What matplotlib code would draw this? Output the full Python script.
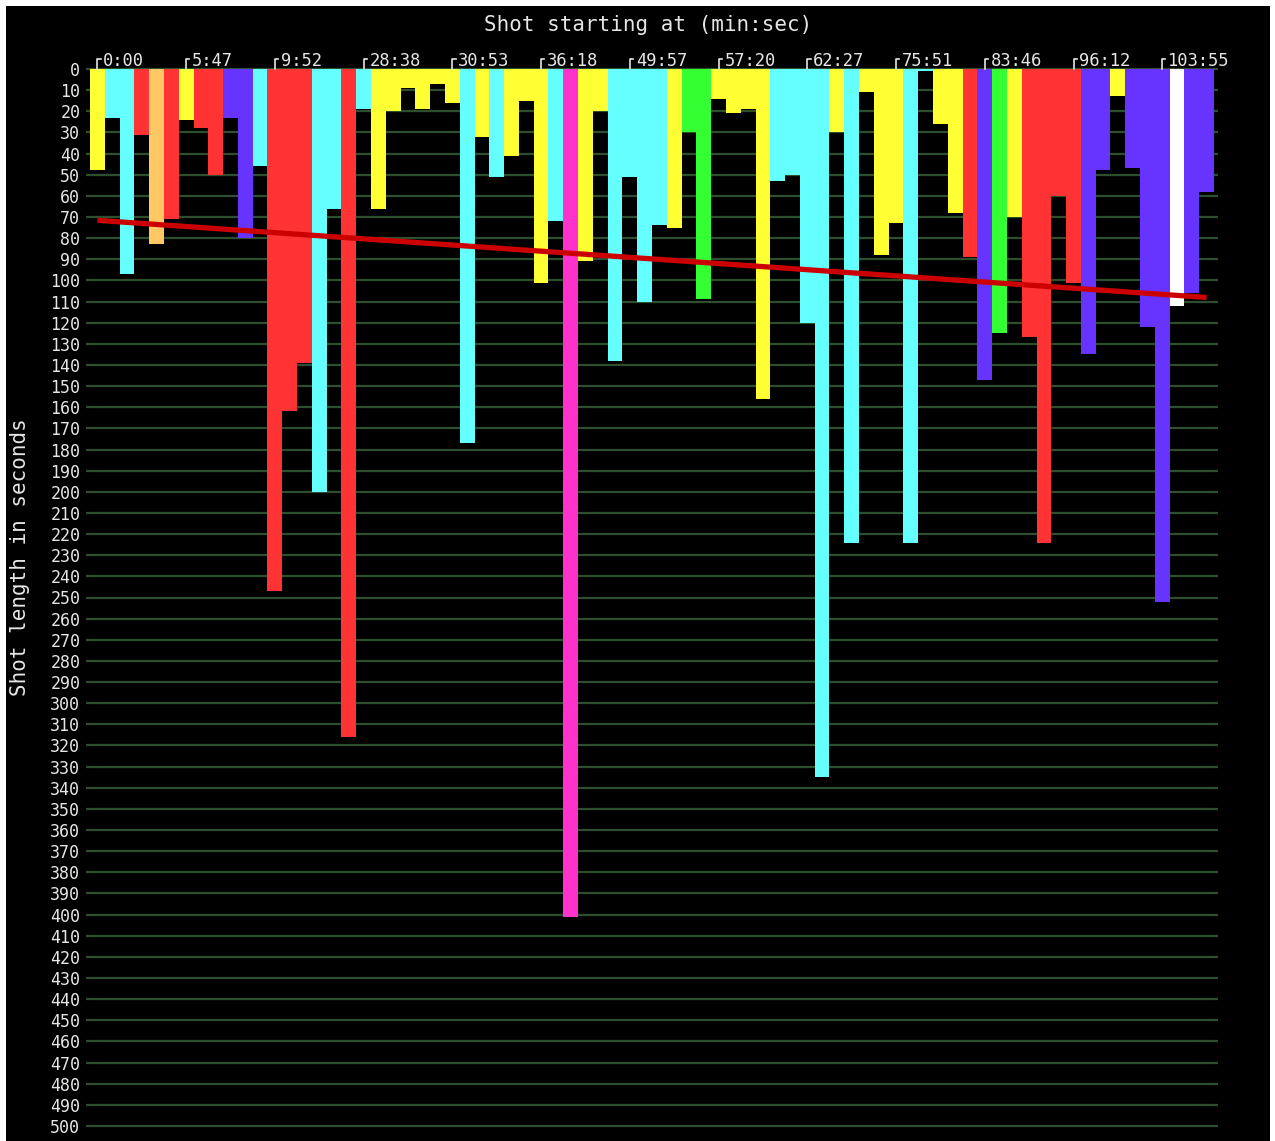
"""Shot length chart: one bar per shot, hanging down from the top axis."""

from __future__ import annotations

import matplotlib

matplotlib.use("Agg")
import matplotlib.pyplot as plt
import matplotlib.transforms as mtransforms
import numpy as np

# shot lengths in seconds, in shot order
shot_len = [
    48, 23, 97, 31, 83, 71, 24, 28, 50, 23, 80, 46, 247, 162, 139, 200, 66, 316, 19, 66,
    20, 9, 19, 7, 16, 177, 32, 51, 41, 15, 101, 72, 401, 91, 20, 138, 51, 110, 74, 75,
    30, 109, 14, 21, 19, 156, 53, 50, 120, 335, 30, 224, 11, 88, 73, 224, 1, 26, 68, 89,
    147, 125, 70, 127, 224, 60, 101, 135, 48, 13, 47, 122, 252, 112, 106, 58,
]
# shot category (colour key) per shot
shot_kind = [
    "Y", "C", "C", "R", "O", "R", "Y", "R", "R", "P", "P", "C", "R", "R", "R", "C", "C", "R", "C", "Y",
    "Y", "Y", "Y", "Y", "Y", "C", "Y", "C", "Y", "Y", "Y", "C", "M", "Y", "Y", "C", "C", "C", "C", "Y",
    "G", "G", "Y", "Y", "Y", "Y", "C", "C", "C", "C", "Y", "C", "Y", "Y", "Y", "C", "C", "Y", "Y", "R",
    "P", "G", "Y", "R", "R", "R", "R", "P", "P", "Y", "P", "P", "P", "W", "P", "P",
]
# start-time labels shown above every 6th shot
start_labels = ["0:00", "5:47", "9:52", "28:38", "30:53", "36:18", "49:57",
                "57:20", "62:27", "75:51", "83:46", "96:12", "103:55"]
label_every = 6
y_ticks = list(range(0, 501, 10))

PALETTE = {
    "Y": "#FFFF33", "C": "#66FFFF", "R": "#FF3333", "O": "#FFC864",
    "P": "#6633FF", "M": "#FF33CC", "G": "#33FF33", "W": "#FFFFFF",
}
FG = "#E6E6E6"
GRID = "#2E4F2E"
W, H = 1275, 1141


def main() -> None:
    plt.rcParams["font.family"] = ["DejaVu Sans Mono"]
    fig = plt.figure(figsize=(W / 100, H / 100), dpi=100, facecolor="white")
    # black panel with a thin white margin at top/left/right
    fig.patches.append(plt.Rectangle((6 / W, 0), (1270 - 6) / W, (H - 6) / H,
                                     transform=fig.transFigure, facecolor="black",
                                     edgecolor="none", zorder=-10))

    left, right, top, bottom = 90, 1214, 69, 1126
    ax = fig.add_axes([left / W, (H - bottom) / H, (right - left) / W, (bottom - top) / H])
    ax.set_facecolor("black")
    for s in ax.spines.values():
        s.set_visible(False)

    n = len(shot_len)
    x = np.arange(n)
    ax.bar(x, shot_len, width=1.0, color=[PALETTE[k] for k in shot_kind],
           edgecolor="none", zorder=2)

    # linear trend over the shots
    k, b = np.polyfit(x, shot_len, 1)
    ax.plot(x, k * x + b, color="#CC0000", lw=3.8, zorder=3, solid_capstyle="butt")

    ax.set_xlim(-0.5, n - 0.5)
    ax.set_ylim(500, 0)
    ax.set_xticks([])
    ax.set_yticks(y_ticks)
    ax.yaxis.grid(True, color=GRID, lw=1.6, zorder=1)
    for gl in ax.get_ygridlines():
        gl.set_clip_on(False)
    ax.set_axisbelow(True)
    ax.tick_params(axis="y", left=True, right=True, labelleft=True, labelright=True,
                   length=3, width=1.6, color=GRID, labelcolor=FG, labelsize=12, pad=4)
    # right side labels start at 10
    for tick in ax.yaxis.get_major_ticks():
        if tick.get_loc() == 0:
            tick.label2.set_visible(False)

    # top start-time labels with little hooks
    trans = mtransforms.blended_transform_factory(ax.transData, ax.transAxes)
    hook = 10 / (bottom - top)
    for i, lab in enumerate(start_labels):
        xi = i * label_every
        ax.plot([xi, xi, xi + 0.22], [1, 1 + hook, 1 + hook], color=FG, lw=1.2,
                transform=trans, clip_on=False)
        ax.text(xi + 0.4, 1 + 2.5 / (bottom - top), lab, transform=trans,
                ha="left", va="baseline", color=FG, fontsize=12.3)

    fig.text(648 / W, 1 - 25 / H, "Shot starting at (min:sec)", ha="center",
             va="center", color=FG, fontsize=15)
    fig.text(20 / W, 1 - 557 / H, "Shot length in seconds", ha="center",
             va="center", rotation=90, color=FG, fontsize=15)

    fig.savefig("out.png", dpi=100, facecolor="white")
    plt.close(fig)


if __name__ == "__main__":
    main()
